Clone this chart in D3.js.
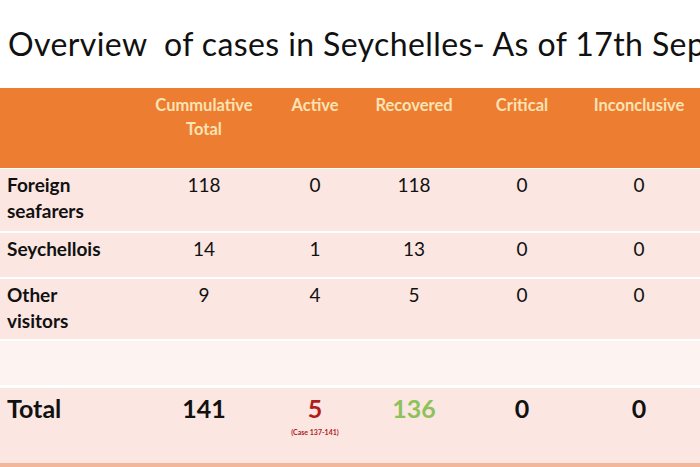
<!DOCTYPE html>
<html><head><meta charset="utf-8">
<script src="https://cdn.jsdelivr.net/npm/d3@7"></script>
<style>body{margin:0;background:#fff}svg{display:block}</style>
</head><body><svg id="c" width="700" height="467"></svg>
<script>
const title = "Overview  of cases in Seychelles- As of 17th Sept";
const columns = ["Cummulative\nTotal","Active","Recovered","Critical","Inconclusive"];
const rowLabels = ["Foreign\nseafarers","Seychellois","Other\nvisitors",""];
const cumulative = [118,14,9,null];
const active = [0,1,4,null];
const recovered = [118,13,5,null];
const critical = [0,0,0,null];
const inconclusive = [0,0,0,null];
const totals = [141,5,136,0,0];
const totalNote = "(Case 137-141)";

const svg = d3.select("#c");
const font = "Lato, 'Open Sans', sans-serif";
svg.append("text").attr("x",8).attr("y",56).attr("font-family",font).attr("font-size",32)
  .attr("letter-spacing",0.4).attr("fill","#111").attr("xml:space","preserve").text(title);

const x = d3.scaleOrdinal().domain(columns).range([204,315,414,522,639]);
const rowEdges = [168,232,278,340,386];
const y = d3.scaleOrdinal().domain(d3.range(4)).range(rowEdges.slice(0,4));
const h = d3.scaleOrdinal().domain(d3.range(4)).range(d3.range(4).map(i=>rowEdges[i+1]-rowEdges[i]));

svg.append("rect").attr("x",0).attr("y",88).attr("width",700).attr("height",80).attr("fill","#ed7d31");
columns.forEach(c=>{
  c.split("\n").forEach((l,j)=>svg.append("text").attr("x",x(c)).attr("y",111+j*24)
    .attr("text-anchor","middle").attr("font-family",font).attr("font-weight","bold")
    .attr("font-size",16.5).attr("fill","#fbe3b4").text(l));
});
const series=[cumulative,active,recovered,critical,inconclusive];
rowLabels.forEach((lab,i)=>{
  svg.append("rect").attr("x",0).attr("y",y(i)+1).attr("width",700).attr("height",h(i)-2)
    .attr("fill", i===3?"#fdf3f1":"#fbe6e1");
  lab.split("\n").forEach((l,j)=>svg.append("text").attr("x",7).attr("y",y(i)+24+j*26)
    .attr("font-family",font).attr("font-weight","bold").attr("font-size",19).attr("fill","#111").text(l));
  series.forEach((s,k)=>{ if(s[i]!=null) svg.append("text").attr("x",x(columns[k])).attr("y",y(i)+24)
    .attr("text-anchor","middle").attr("font-family",font).attr("font-size",19).attr("fill","#111").text(s[i]); });
});
svg.append("rect").attr("x",0).attr("y",388).attr("width",700).attr("height",75).attr("fill","#fbe6e1");
svg.append("rect").attr("x",0).attr("y",463).attr("width",700).attr("height",4).attr("fill","#f2b79b");
svg.append("text").attr("x",7).attr("y",418).attr("font-family",font).attr("font-weight","bold")
  .attr("font-size",25).attr("fill","#111").text("Total");
const totColors=["#111","#b01c1c","#8dc25a","#111","#111"];
totals.forEach((v,k)=>svg.append("text").attr("x",x(columns[k])).attr("y",418).attr("text-anchor","middle")
  .attr("font-family",font).attr("font-weight","bold").attr("font-size",25).attr("fill",totColors[k]).text(v));
svg.append("text").attr("x",x(columns[1])).attr("y",435).attr("text-anchor","middle").attr("font-family",font)
  .attr("font-size",7).attr("font-weight","bold").attr("fill","#b01c1c").text(totalNote);
</script></body></html>
